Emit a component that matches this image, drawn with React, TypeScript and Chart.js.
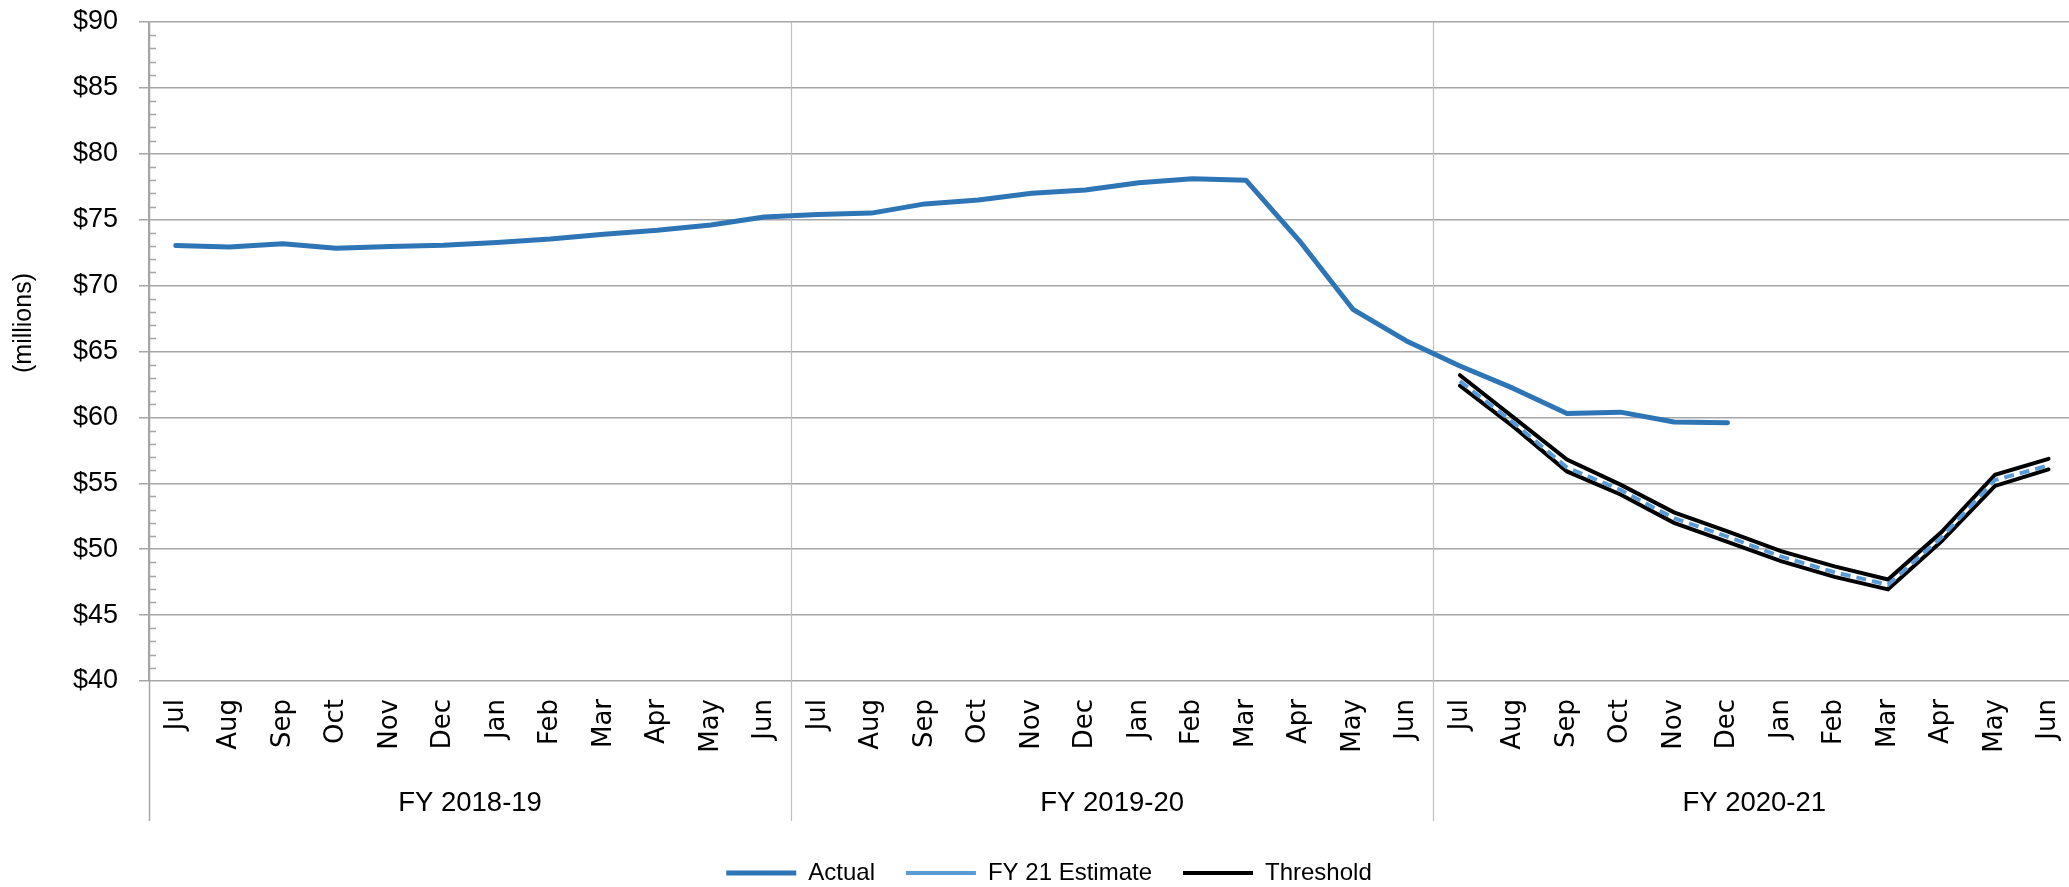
import React, { useEffect, useRef } from 'react';
import { Chart, registerables } from 'chart.js';

Chart.register(...registerables);

const months = ['Jul', 'Aug', 'Sep', 'Oct', 'Nov', 'Dec', 'Jan', 'Feb', 'Mar', 'Apr', 'May', 'Jun'];
const fiscalYears = ['FY 2018-19', 'FY 2019-20', 'FY 2020-21'];

const yMin = 40;
const yMax = 90;
const yStep = 5;

// Actual monthly values ($ millions), Jul 2018 .. Dec 2020
const actual = [
  73.05, 72.92, 73.17, 72.84, 72.97, 73.07, 73.27, 73.53, 73.9, 74.2, 74.6, 75.2,
  75.4, 75.5, 76.2, 76.5, 77.0, 77.25, 77.8, 78.1, 78.0, 73.4, 68.2, 65.8,
  63.9, 62.2, 60.3, 60.4, 59.65, 59.6, null, null, null, null, null, null,
];

// FY 2020-21 only
const estimateFY21 = [62.75, 59.6, 56.2, 54.5, 52.35, 50.95, 49.45, 48.25, 47.3, 50.9, 55.25, 56.35];
const thresholdHighFY21 = [63.2, 60.0, 56.8, 54.9, 52.8, 51.35, 49.85, 48.7, 47.7, 51.3, 55.65, 56.85];
const thresholdLowFY21 = [62.4, 59.3, 55.9, 54.15, 52.0, 50.55, 49.1, 47.9, 46.95, 50.6, 54.8, 56.05];

const categories = fiscalYears.flatMap(() => months);
const padFY21 = (arr: number[]) => (new Array(24).fill(null) as (number | null)[]).concat(arr);

const FONT = '"Liberation Sans", Arial, sans-serif';
const GRID = '#A6A6A6';
const SEP = '#BFBFBF';

const decorPlugin = {
  id: 'decor',
  beforeDatasetsDraw(chart: any) {
    const { ctx, chartArea, scales } = chart;
    const x = scales.x;
    const y = scales.y;
    const sepBottom = chartArea.bottom + 140;
    ctx.save();
    for (let g = 0; g <= fiscalYears.length; g++) {
      const px = Math.round(x.getPixelForValue(g * months.length - 0.5)) + 0.5;
      ctx.beginPath();
      ctx.strokeStyle = g === 0 ? GRID : SEP;
      ctx.lineWidth = g === 0 ? 1.5 : 1.2;
      ctx.moveTo(px, chartArea.top);
      ctx.lineTo(px, sepBottom);
      ctx.stroke();
    }
    ctx.strokeStyle = GRID;
    ctx.lineWidth = 1.5;
    for (let v = yMin + 1; v < yMax; v++) {
      if (v % yStep === 0) continue;
      const py = Math.round(y.getPixelForValue(v)) + 0.5;
      ctx.beginPath();
      ctx.moveTo(chartArea.left, py);
      ctx.lineTo(chartArea.left + 7, py);
      ctx.stroke();
    }
    ctx.restore();
  },
  afterDraw(chart: any) {
    const { ctx, chartArea, scales } = chart;
    const x = scales.x;
    ctx.save();
    ctx.fillStyle = '#000';
    ctx.textAlign = 'center';
    ctx.textBaseline = 'middle';
    ctx.font = `27.5px ${FONT}`;
    fiscalYears.forEach((fy, g) => {
      const px = x.getPixelForValue(g * months.length + (months.length - 1) / 2);
      ctx.fillText(fy, px, chartArea.bottom + 122);
    });
    ctx.font = `25px ${FONT}`;
    ctx.translate(24, 323);
    ctx.rotate(-Math.PI / 2);
    ctx.fillText('(millions)', 0, 0);
    ctx.restore();
  },
};

export default function App() {
  const ref = useRef<HTMLCanvasElement | null>(null);

  useEffect(() => {
    if (!ref.current) return;
    const chart = new Chart(ref.current, {
      type: 'line',
      data: {
        labels: categories,
        datasets: [
          {
            label: 'Actual',
            data: actual,
            borderColor: '#2E75B6',
            backgroundColor: '#2E75B6',
            borderWidth: 5,
            borderCapStyle: 'round',
            borderJoinStyle: 'round',
            pointRadius: 0,
            tension: 0,
          },
          {
            label: 'FY 21 Estimate',
            data: padFY21(estimateFY21),
            borderColor: '#5B9BD5',
            backgroundColor: '#5B9BD5',
            borderWidth: 4,
            borderDash: [10, 6],
            borderCapStyle: 'butt',
            pointRadius: 0,
            tension: 0,
          },
          {
            label: 'Threshold',
            data: padFY21(thresholdHighFY21),
            borderColor: '#000000',
            backgroundColor: '#000000',
            borderWidth: 4,
            borderCapStyle: 'round',
            pointRadius: 0,
            tension: 0,
          },
          {
            label: 'Threshold (low)',
            data: padFY21(thresholdLowFY21),
            borderColor: '#000000',
            backgroundColor: '#000000',
            borderWidth: 4,
            borderCapStyle: 'round',
            pointRadius: 0,
            tension: 0,
          },
        ],
      },
      options: {
        responsive: false,
        animation: false,
        devicePixelRatio: 1,
        layout: { padding: { top: 22, left: 20, right: 20, bottom: 5 } },
        plugins: {
          title: { display: false },
          tooltip: { enabled: false },
          legend: {
            display: true,
            position: 'bottom',
            labels: {
              usePointStyle: true,
              pointStyle: 'line',
              pointStyleWidth: 70,
              padding: 31,
              color: '#000',
              font: { family: FONT, size: 24 },
              filter: (item: any) => item.datasetIndex !== 3,
            },
          },
        },
        scales: {
          x: {
            type: 'category',
            offset: true,
            grid: { display: false, drawTicks: false },
            border: { display: false },
            ticks: {
              autoSkip: false,
              maxRotation: 90,
              minRotation: 90,
              padding: 18,
              color: '#000',
              font: { family: '"DejaVu Sans", Verdana, sans-serif', size: 26 },
            },
            afterFit: (s: any) => {
              s.height = 149;
            },
          },
          y: {
            min: yMin,
            max: yMax,
            ticks: {
              stepSize: yStep,
              padding: 21,
              color: '#000',
              font: { family: FONT, size: 27 },
              callback: (v: any) => '$' + v,
            },
            grid: { color: GRID, lineWidth: 1.5, tickLength: 10, drawTicks: true },
            border: { display: true, color: GRID, width: 1.5 },
            afterFit: (s: any) => {
              s.width = 129;
              s.paddingTop = 0;
              s.paddingBottom = 0;
            },
          },
        },
      },
      plugins: [decorPlugin],
    });
    return () => chart.destroy();
  }, []);

  return (
    <div
      style={{
        position: 'absolute',
        left: 0,
        top: 0,
        width: 2069,
        height: 887,
        overflow: 'hidden',
        background: '#fff',
      }}
    >
      <canvas ref={ref} width={2098} height={900} style={{ display: 'block' }} />
    </div>
  );
}
